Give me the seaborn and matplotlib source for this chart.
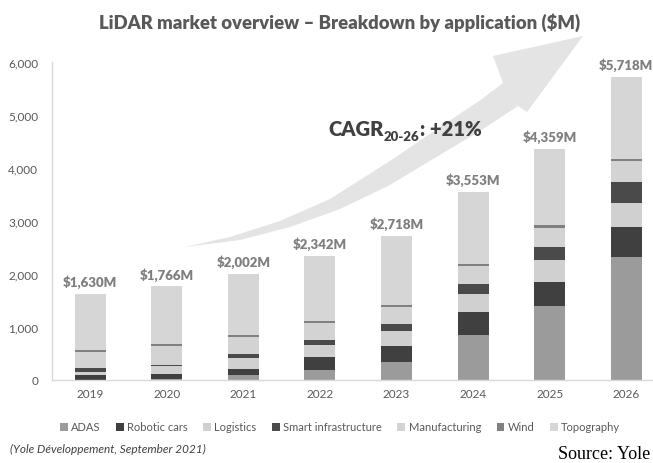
import matplotlib
matplotlib.use('Agg')
import matplotlib.pyplot as plt
import seaborn as sns
from matplotlib.patches import Patch, Polygon

# data (in $M)
years = ['2019', '2020', '2021', '2022', '2023', '2024', '2025', '2026']
totals = [1630, 1766, 2002, 2342, 2718, 3553, 4359, 5718]
adas = [5, 10, 94, 189, 333, 855, 1390, 2315]
robotic_cars = [80, 100, 114, 251, 302, 434, 453, 566]
logistics = [60, 145, 201, 220, 296, 327, 421, 459]
smart_infra = [80, 31, 75, 95, 132, 195, 252, 402]
manufacturing = [295, 359, 334, 320, 321, 334, 358, 384]
wind = [40, 31, 25, 32, 31, 37, 44, 44]
topography = [1070, 1090, 1159, 1235, 1303, 1371, 1441, 1548]

series = [
    ('ADAS', adas, '#9b9b9b'),
    ('Robotic cars', robotic_cars, '#404040'),
    ('Logistics', logistics, '#d0d0d0'),
    ('Smart infrastructure', smart_infra, '#4a4a4a'),
    ('Manufacturing', manufacturing, '#d3d3d3'),
    ('Wind', wind, '#808080'),
    ('Topography', topography, '#d6d6d6'),
]

sns.set_style('white')
plt.rcParams['font.family'] = ['Lato', 'DejaVu Sans']

fig = plt.figure(figsize=(6.53, 4.64), dpi=100)
W, H = 653, 464

# background growth arrow (pixel coords -> figure fraction)
arrow_px = [(185, 248), (230, 238), (280, 222), (330, 200), (393, 160), (440, 128),
            (482, 100), (503, 84), (493, 57), (583, 37), (527, 113), (518, 107),
            (480, 132), (433, 160), (390, 186), (340, 210), (290, 228), (240, 241)]
arrow = Polygon([(x / W, 1 - y / H) for x, y in arrow_px], closed=True,
                transform=fig.transFigure, facecolor='#e4e4e4', edgecolor='none', zorder=-5)
fig.patches.append(arrow)

ax = fig.add_axes([52 / W, 1 - 381 / H, 1 - 52 / W, (381 - 63) / H])
ax.patch.set_alpha(0)

bottom = [0] * len(years)
for name, vals, col in series:
    sns.barplot(x=years, y=vals, bottom=bottom, color=col, width=0.405,
                ax=ax, linewidth=0, zorder=2)
    bottom = [b + v for b, v in zip(bottom, vals)]

for i, t in enumerate(totals):
    ax.annotate('${:,}M'.format(t), xy=(i, t), xytext=(0, 4), textcoords='offset points',
                ha='center', va='bottom', fontsize=9.5, fontweight='heavy', color='#7f7f7f')

ax.set_xlim(-0.5, 7.35)
ax.set_ylim(0, 6000)
ax.set_yticks(range(0, 6001, 1000))
ax.set_yticklabels(['{:,}'.format(v) for v in range(0, 6001, 1000)])
ax.tick_params(axis='both', length=0, labelsize=8.5, labelcolor='#595959')
ax.tick_params(axis='y', pad=10)
ax.tick_params(axis='x', pad=6)
ax.set_xlabel('')
ax.set_ylabel('')
sns.despine(ax=ax, top=True, right=True)
for s in ['left', 'bottom']:
    ax.spines[s].set_color('#d9d9d9')
    ax.spines[s].set_linewidth(1)

handles = [Patch(facecolor=c, edgecolor='none', label=n) for n, _, c in series]
fig.legend(handles=handles, loc='center', bbox_to_anchor=(340 / W, 1 - 428 / H), ncol=7,
           frameon=False, fontsize=8, labelcolor='#595959', handlelength=0.7,
           handleheight=0.7, handletextpad=0.3, columnspacing=1.4)

fig.text(340 / W, 1 - 23 / H, 'LiDAR market overview \u2013 Breakdown by application ($M)',
         ha='center', va='center', fontsize=13.3, fontweight='heavy', color='#595959')

# CAGR label built from three pieces
t1 = ax.text(328 / W, 1 - 136 / H, 'CAGR', transform=fig.transFigure, ha='left',
             va='baseline', fontsize=14.5, fontweight='heavy', color='#404040', zorder=5)
t2 = ax.annotate('20-26', xy=(1, 0), xycoords=t1, xytext=(0.5, -3), textcoords='offset points',
                 ha='left', va='bottom', fontsize=9.5, fontweight='heavy', color='#404040')
ax.annotate(': +21%', xy=(1, 0), xycoords=t2, xytext=(0, 3), textcoords='offset points',
            ha='left', va='bottom', fontsize=14.5, fontweight='heavy', color='#404040')

fig.text(10 / W, 1 - 449 / H, '(Yole D\u00e9veloppement, September 2021)', ha='left',
         va='center', fontsize=8.5, style='italic', color='#404040')
fig.text(650 / W, 1 - 455 / H, 'Source: Yole', ha='right', va='center', fontsize=13,
         family='Liberation Serif', color='#000000')

fig.savefig('out.png', dpi=100)
